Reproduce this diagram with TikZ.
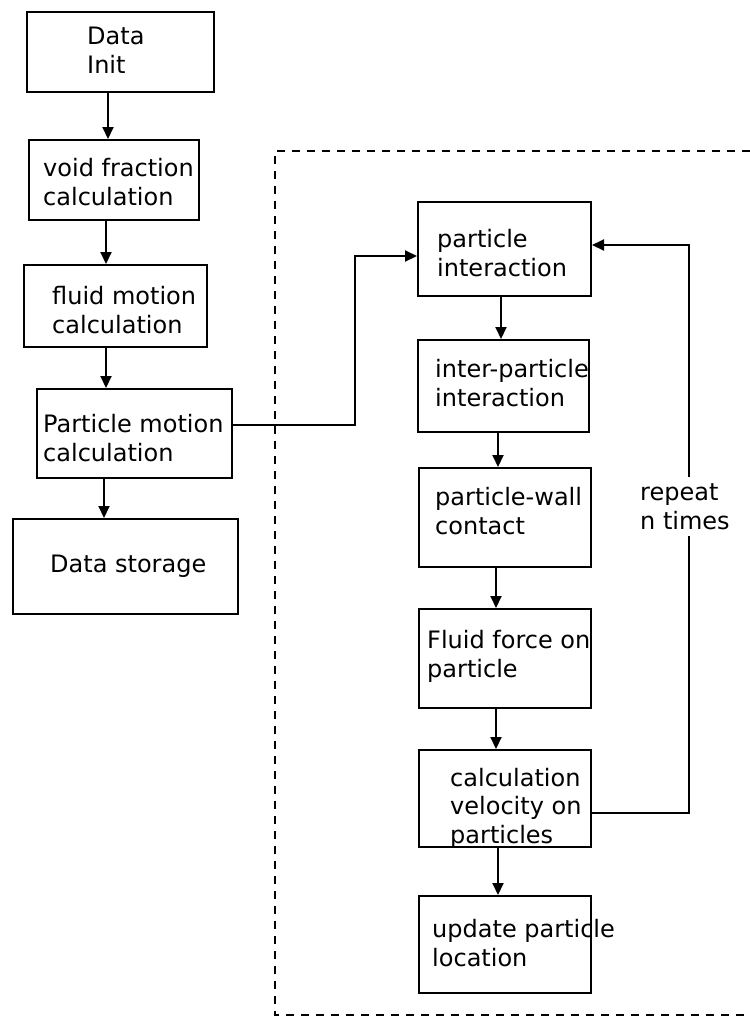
\documentclass[tikz,border=0pt]{standalone}
\usepackage{fontspec}
\setmainfont{DejaVu Sans}
\usetikzlibrary{arrows.meta}
\tikzset{
  blk/.style={draw, line width=2pt, inner sep=0pt},
  txt/.style={anchor=base west, align=left, inner sep=0pt, font=\fontsize{24}{28.5}\selectfont},
  arr/.style={line width=2pt, -{Triangle[length=12pt,width=11pt]}},
  ln/.style={line width=2pt}
}
\begin{document}
\begin{tikzpicture}[x=1pt, y=-1pt]
  \useasboundingbox (0,0) rectangle (750,1018);

  \draw [ln, dash pattern=on 8pt off 7pt] (750,151) -- (275,151) -- (275,1015) -- (750,1015);

  \node[blk, minimum width=187pt, minimum height=80pt] (init) at (120.5,52) {};
  \node[blk, minimum width=170pt, minimum height=80pt] (void) at (114,180) {};
  \node[blk, minimum width=183pt, minimum height=82pt] (fluid) at (115.5,306) {};
  \node[blk, minimum width=195pt, minimum height=89pt] (pmotion) at (134.5,433.5) {};
  \node[blk, minimum width=225pt, minimum height=95pt] (storage) at (125.5,566.5) {};

  \node[blk, minimum width=173pt, minimum height=94pt] (pinter) at (504.5,249) {};
  \node[blk, minimum width=171pt, minimum height=92pt] (ipinter) at (503.5,386) {};
  \node[blk, minimum width=172pt, minimum height=99pt] (pwall) at (505,517.5) {};
  \node[blk, minimum width=172pt, minimum height=99pt] (fforce) at (505,658.5) {};
  \node[blk, minimum width=172pt, minimum height=97pt] (cvel) at (505,798.5) {};
  \node[blk, minimum width=172pt, minimum height=97pt] (update) at (505,944.5) {};

  % base of a text node is the baseline of its last line
  \node[txt] (initt) at (87,73) {Data\\Init};
  \node[txt] (voidt) at (43,205) {void fraction\\calculation};
  \node[txt] (fluidt) at (52,333) {fluid motion\\calculation};
  \node[txt] (pmotiont) at (43,461) {Particle motion\\calculation};
  \node[txt] (storaget) at (50,572) {Data storage};
  \node[txt] (pintert) at (437,276) {particle\\interaction};
  \node[txt] (ipintert) at (435,406) {inter-particle\\interaction};
  \node[txt] (pwallt) at (435,534) {particle-wall\\contact};
  \node[txt] (fforcet) at (427,677) {Fluid force on\\particle};
  \node[txt] (cvelt) at (450,843) {calculation\\velocity on\\particles};
  \node[txt] (updatet) at (432,966) {update particle\\location};

  \foreach \a/\b/\s in {init/void/-12.5, void/fluid/-8, fluid/pmotion/-9.5, pmotion/storage/-30.5,
      pinter/ipinter/-3.5, ipinter/pwall/-5.5, pwall/fforce/-9, fforce/cvel/-9, cvel/update/-7}
    \draw[arr] ([xshift=\s pt]\a.south) -- ([xshift=\s pt]\a.south |- \b.north);

  \coordinate (jog) at (355,256);
  \draw[arr] ([yshift=8.5pt]pmotion.east) -| (jog) -- ([yshift=-7pt]pinter.west);

  \draw[arr] ([yshift=-14.5pt]cvel.east) -- ++(97,0) |- ([yshift=4pt]pinter.east);
  \node[txt, fill=white, inner ysep=7pt] (rep) at (640,529) {repeat\\n times};
\end{tikzpicture}
\end{document}
